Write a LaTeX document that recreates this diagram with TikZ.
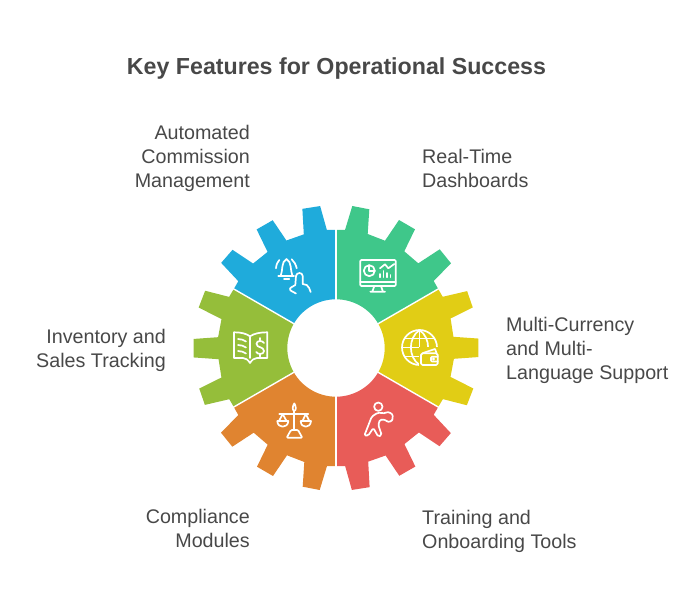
\documentclass[tikz,border=0pt]{standalone}
\usepackage{fontspec}
\setmainfont{Liberation Sans}
\definecolor{gearBlue}{HTML}{1FABDB}
\definecolor{gearGreen}{HTML}{3FC78A}
\definecolor{gearYellow}{HTML}{E1CD15}
\definecolor{gearRed}{HTML}{E85C58}
\definecolor{gearOrange}{HTML}{E08430}
\definecolor{gearOlive}{HTML}{95BE3A}
\definecolor{txtGray}{HTML}{484848}
\tikzset{
	lbl/.style={inner sep=0pt,text=txtGray,font=\fontsize{19.7}{24}\selectfont},
	ttl/.style={inner sep=0pt,text=txtGray,font=\fontsize{23.2}{30}\selectfont\bfseries},
	icon/.style={draw=white,line width=1.7pt,line cap=round,line join=round}
}
\begin{document}
\begin{tikzpicture}[x=1pt,y=-1pt]
	\useasboundingbox (0,0) rectangle (696,601);
	% gear, one sector turned six times
	\foreach \rot/\col in {0/gearGreen,-60/gearYellow,-120/gearRed,-180/gearOrange,-240/gearOlive,-300/gearBlue}{
		\fill[\col,shift={(336,348)},rotate=\rot] (0,-118)--(9,-118)--(16.3,-142)--(33.3,-138.7)--(31.7,-114)
			--(49,-107.3)--(63,-128)--(79,-118.7)--(68.3,-96.7)--(82.3,-84.7)--(103.7,-98.7)--(115,-84.7)
			--(97.7,-67)--(102.2,-59)--(42.2,-24.35) .. controls (33.5,-39.4) and (17.4,-48.7) .. (0,-48.7)--cycle;
	}
	\foreach \rot in {0,-60,-120,-180,-240,-300}{
		\draw[white,line width=1.4pt,shift={(336,348)},rotate=\rot] (0,-45)--(0,-122);
	}
	% bell and hand
	\draw[icon] (276,268.3) .. controls (276.3,264.5) and (277.5,262) .. (279.3,260);
	\draw[icon] (291.7,259.3) .. controls (294,261.5) and (296,264.5) .. (296.7,268.3);
	\draw[icon] (278.3,276)--(294,276);
	\draw[icon] (280.7,276) .. controls (283,270) and (281,262) .. (286.5,259) .. controls (292,262) and (290,270) .. (292.5,276);
	\draw[icon] (284,279.3)--(289.3,279.3);
	\draw[icon] (296,293.5)--(290.5,290.5) .. controls (289.5,289) and (290,288) .. (291,287.5)--(295.3,285)--(296,276)
		.. controls (296.5,272) and (302.5,272) .. (302.7,276)--(302.7,284)--(306.7,285) .. controls (308.5,286.5) and (310,289) .. (310.7,292);
	% monitor
	\draw[icon,rounded corners=1pt] (360.3,260) rectangle (395.7,286);
	\draw[icon] (360.3,281.7)--(395.7,281.7);
	\draw[icon] (374.3,286)--(372.3,291.7) (381,286)--(383,291.7) (370.3,291.7)--(385,291.7);
	\draw[icon] (369.3,270.7) circle[radius=5.5];
	\draw[icon] (369.3,265.2)--(369.3,270.7)--(374.8,270.7);
	\draw[icon] (380,268.3)--(385,264.3)--(388.3,268.3)--(394.3,264);
	\foreach \xb/\yb in {380/274,383.5/271,387/273,390.5/275}{
		\draw[icon] (\xb,277.3)--(\xb,\yb);
	}
	% globe and wallet
	\draw[icon] (419.5,347.5) circle[radius=17.5];
	\draw[icon] (419.5,330) .. controls (408,338) and (408,357) .. (419.5,365);
	\draw[icon] (419.5,330) .. controls (431,338) and (431,357) .. (419.5,365);
	\draw[icon] (419.5,330)--(419.5,365) (402,347.5)--(437,347.5);
	\draw[icon] (405,338.5)--(434,338.5) (405,356.5)--(434,356.5);
	\fill[gearYellow] (419,347) rectangle (441,368);
	\draw[icon] (423,353)--(435,349)--(436.5,353);
	\draw[icon,rounded corners=1.5pt] (421,353.3) rectangle (437.7,365);
	\draw[icon,rounded corners=1pt] (437.7,356.7)--(431,356.7)--(431,361.5)--(437.7,361.5);
	\draw[white,line width=1pt] (433.5,359) circle[radius=0.8];
	% boxer
	\draw[icon] (378.3,406.7) circle[radius=4.2];
	\draw[icon,rounded corners=1.5pt] (364.3,435.7)--(371.7,416.7)--(377.7,412.7)--(385.5,413.3)
		.. controls (388,411.5) and (393,413.5) .. (392.5,417.5) .. controls (392.5,421.5) and (388,422.5) .. (386,420)
		--(380,419.5)--(378.3,425)--(381.7,435)--(378.3,436.7)--(373.3,428)--(368.3,435.5)--cycle;
	% scales
	\draw[icon] (294.3,403.3) .. controls (292.5,406) and (292,410.7) .. (294.3,410.7) .. controls (296.6,410.7) and (296,406) .. (294.3,403.3);
	\draw[icon] (294.3,410.7)--(294.3,430);
	\draw[icon] (279.3,414)--(308.3,414);
	\draw[icon] (277.3,421)--(288.3,421) .. controls (288,425) and (285.5,426.7) .. (282.7,426.7) .. controls (280,426.7) and (277.5,425) .. (277.3,421);
	\draw[icon] (300.7,421)--(311,421) .. controls (310.7,425) and (308.3,426.7) .. (305.8,426.7) .. controls (303,426.7) and (300.9,425) .. (300.7,421);
	\draw[icon] (282.7,414)--(279,421) (282.7,414)--(286.5,421) (305.8,414)--(302.5,421) (305.8,414)--(309.3,421);
	\draw[icon,rounded corners=1pt] (291,430)--(298,430)--(302.3,437.7)--(286.7,437.7)--cycle;
	% book
	\draw[icon] (250,336.3) .. controls (246,333.5) and (241,332.3) .. (234,332.3)--(234,358)--(243,358) .. controls (246,358) and (248,360) .. (250,363)
		.. controls (252,360) and (254,358) .. (257,358)--(267.3,358)--(267.3,332.3) .. controls (260,332.3) and (254,333.5) .. (250,336.3)--(250,358);
	\draw[icon] (238,339) .. controls (241,339) and (244,340) .. (246,341.5);
	\draw[icon] (238,345) .. controls (241,345) and (244,346) .. (246,347.5);
	\draw[icon] (238,351) .. controls (241,351) and (244,352) .. (246,353.5);
	\draw[icon] (264,343) .. controls (263,340.5) and (256.5,340) .. (256.5,343.8) .. controls (256.5,348) and (264,346.5) .. (264,351) .. controls (264,355) and (257,354.5) .. (256.3,352);
	\draw[icon] (260.3,338)--(260.3,340.5) (260.3,354)--(260.3,356.5);
	% labels
	\node[ttl] (title) at (336.5,69) {Key Features for Operational Success};
	\node[lbl,anchor=east,align=right] (commission) at (250,158) {Automated\\Commission\\Management};
	\node[lbl,anchor=west,align=left] (dashboards) at (422,168) {Real-Time\\Dashboards};
	\node[lbl,anchor=west,align=left] (currency) at (506,350) {Multi-Currency\\and Multi-\\Language Support};
	\node[lbl,anchor=west,align=left] (training) at (422,531) {Training and\\Onboarding Tools};
	\node[lbl,anchor=east,align=right] (compliance) at (250,528) {Compliance\\Modules};
	\node[lbl,anchor=east,align=right] (inventory) at (166,350) {Inventory and\\Sales Tracking};
\end{tikzpicture}
\end{document}
